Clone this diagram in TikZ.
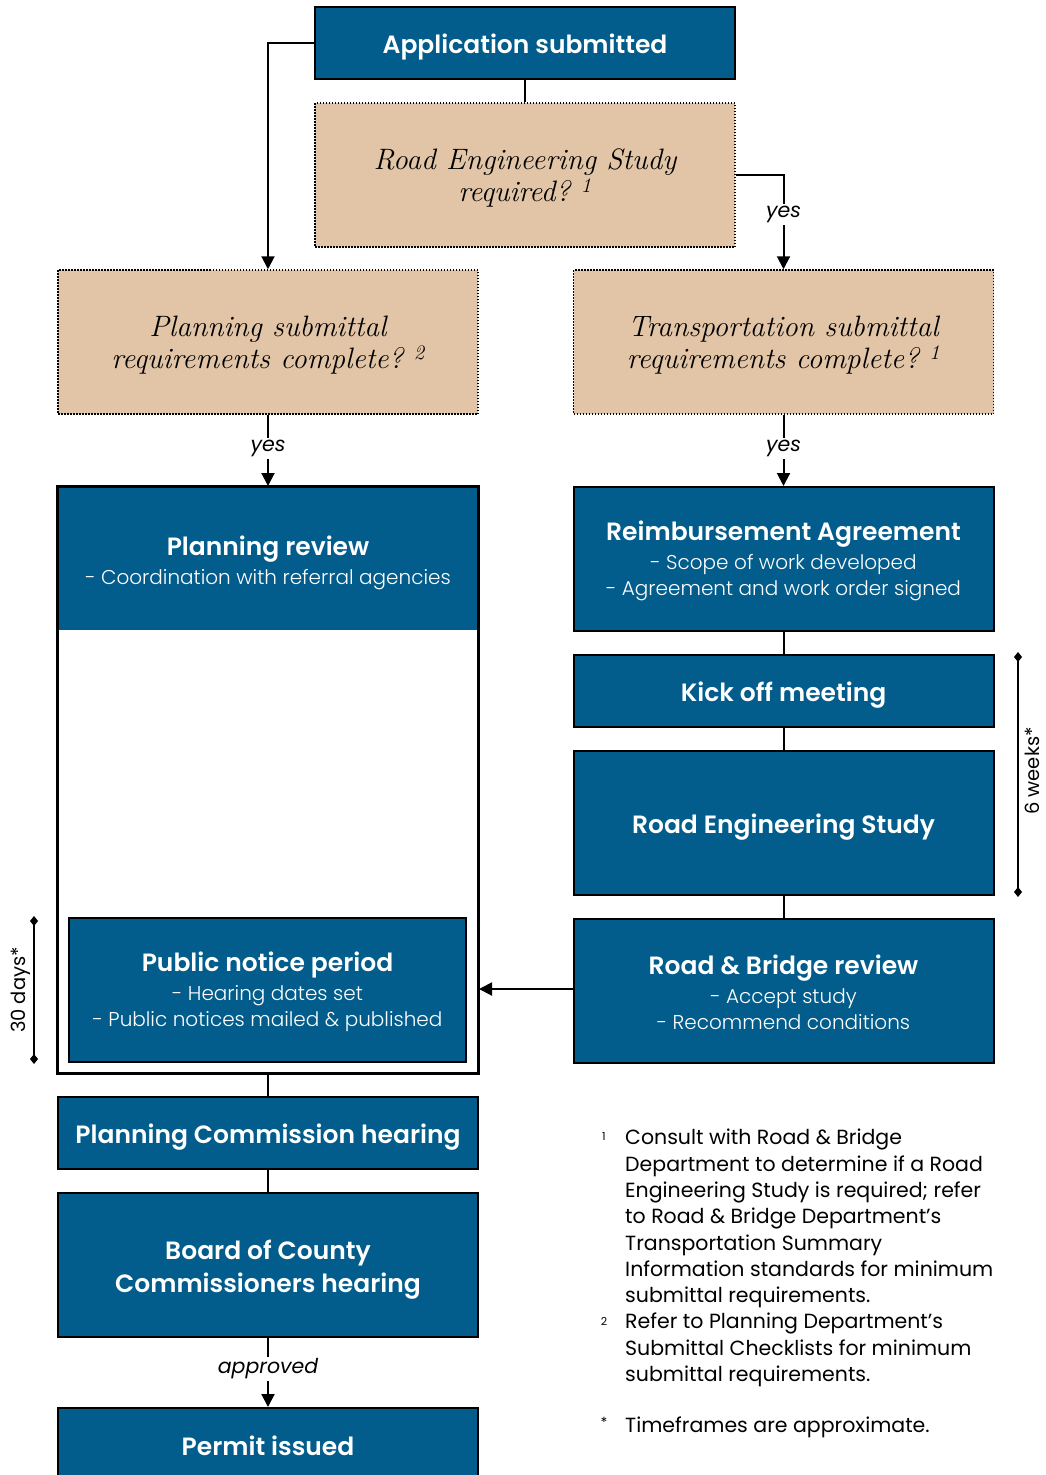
\documentclass[tikz,border=0pt]{standalone}
\usepackage{fontspec}
\setsansfont{Poppins}
\newfontfamily\popsemi{Poppins SemiBold}
\newfontfamily\poplight{Poppins Light}
\usetikzlibrary{arrows.meta}
\definecolor{boxblue}{RGB}{2,93,140}
\definecolor{tanbox}{RGB}{226,196,167}
\newcommand\boxtitle[1]{{\fontsize{25}{30}\selectfont\popsemi\rule{0pt}{23pt}#1}}
\newcommand\onetitle[1]{{\fontsize{25}{30}\selectfont\popsemi\rule{0pt}{28pt}#1}}
\newcommand\revtitle[1]{{\fontsize{25}{30}\selectfont\popsemi\rule{0pt}{27pt}#1}}
\newcommand\decstrut{\rule{0pt}{26pt}}
\begin{document}
\begin{tikzpicture}[x=1pt,y=-1pt,
  bluebox/.style={draw=black, line width=2pt, fill=boxblue, text=white, align=center,
    font=\poplight\fontsize{20}{26}\selectfont, inner sep=0pt, minimum width=420pt},
  bluefill/.style={fill=boxblue, text=white, align=center,
    font=\poplight\fontsize{20}{26}\selectfont, inner sep=0pt, minimum width=418pt},
  outerbox/.style={draw=black, line width=2pt, fill=white, inner sep=0pt, minimum width=420pt},
  decbox/.style={draw=black, line width=1.5pt, dash pattern=on 1.5pt off 1.5pt, fill=tanbox,
    align=center, font=\itshape\fontsize{29.5}{32}\selectfont, inner sep=0pt, minimum width=420pt},
  conn/.style={draw=black, line width=2pt},
  arr/.style={conn, -{Triangle[width=13pt,length=13pt]}},
  lab/.style={fill=white, font=\sffamily\itshape\fontsize{20.5}{24}\selectfont, inner sep=2pt},
  span/.style={draw=black, line width=1.5pt, {Diamond[width=8pt,length=10pt]}-{Diamond[width=8pt,length=10pt]}},
  spanlab/.style={font=\sffamily\fontsize{19.5}{24}\selectfont, rotate=90},
  fnote/.style={font=\sffamily\fontsize{20.5}{26.3}\selectfont, align=left, inner sep=0pt},
  fmark/.style={font=\sffamily\fontsize{11}{13}\selectfont, inner sep=0pt}
]
\useasboundingbox (0,0) rectangle (1045,1475);

% top
\node[bluebox, minimum height=72pt] (app) at (525,43) {\onetitle{Application submitted}};
\node[decbox, minimum height=144pt] (req) at (525,175) {\decstrut Road Engineering Study\\required?\hspace{0.35em}\textsuperscript{1}};

% decisions
\node[decbox, minimum height=144pt] (plansub) at (268,342) {\decstrut Planning submittal\\requirements complete?\hspace{0.35em}\textsuperscript{2}};
\node[decbox, minimum height=144pt] (transub) at (783.5,342) {\decstrut Transportation submittal\\requirements complete?\hspace{0.35em}\textsuperscript{1}};

% planning column
\node[outerbox, minimum height=586pt] (planout) at (268,780) {};
\node[bluefill, minimum height=142pt] (planrev) at (268,559) {\revtitle{Planning review}\\[3pt]- Coordination with referral agencies};
\draw[line width=2pt] (planout.north west) rectangle (planout.south east);
\node[bluebox, minimum width=397pt, minimum height=144pt] (pubnot) at (267.5,990)
  {\boxtitle{Public notice period}\\[3pt]- Hearing dates set\\- Public notices mailed \& published};

\node[bluebox, minimum height=72pt] (pch) at (268,1133) {\onetitle{Planning Commission hearing}};
\node[bluebox, minimum height=144pt] (bocc) at (268,1265)
  {\onetitle{Board of County}\\[6pt]{\fontsize{25}{30}\selectfont\popsemi Commissioners hearing}};
\node[bluebox, minimum height=72pt] (permit) at (268,1444) {\boxtitle{Permit issued}};

% transportation column
\node[bluebox, minimum height=144pt] (reimb) at (783.5,559)
  {\boxtitle{Reimbursement Agreement}\\[3pt]- Scope of work developed\\- Agreement and work order signed};
\node[bluebox, minimum height=72pt] (kick) at (783.5,691) {\onetitle{Kick off meeting}};
\node[bluebox, minimum height=144pt] (res) at (783.5,823) {\onetitle{Road Engineering Study}};
\node[bluebox, minimum height=144pt] (rb) at (783.5,991)
  {\boxtitle{Road \& Bridge review}\\[3pt]- Accept study\\- Recommend conditions};

% connectors
\coordinate (rbw) at ([yshift=2pt]rb.west);
\draw[conn] (app.south) -- (req.north);
\draw[arr] (app.west) -| (plansub.north);
\draw[arr] (req.east) -| (transub.north) node[pos=0.71, lab] {yes};
\draw[arr] (plansub.south) -- (planout.north) node[pos=0.47, lab] {yes};
\draw[arr] (transub.south) -- (reimb.north) node[pos=0.47, lab] {yes};
\draw[conn] (reimb.south) -- (kick.north);
\draw[conn] (kick.south) -- (res.north);
\draw[conn] (res.south) -- (rb.north);
\draw[arr] (rbw) -- (planout.east |- rbw);
\draw[conn] (planout.south) -- (pch.north);
\draw[conn] (pch.south) -- (bocc.north);
\draw[arr] (bocc.south) -- (permit.north) node[pos=0.45, lab] {approved};

% time spans
\coordinate (w1) at (1018,652);
\coordinate (w2) at (1018,897);
\draw[span] (w1) -- (w2);
\node[spanlab] (weeks) at (1032,771) {6 weeks*};
\coordinate (d1) at (34,916);
\coordinate (d2) at (34,1064);
\draw[span] (d1) -- (d2);
\node[spanlab] (days) at (21,990) {30 days*};

% footnotes
\node[fmark] (m1) at (604,1137) {1};
\node[fnote, anchor=north west] (f1) at (625,1129)
  {Consult with Road \& Bridge\\Department to determine if a Road\\Engineering Study is required; refer\\to Road \& Bridge Department's\\Transportation Summary\\Information standards for minimum\\submittal requirements.};
\node[fmark] (m2) at (604,1321) {2};
\node[fnote, anchor=north west] (f2) at (625,1313)
  {Refer to Planning Department's\\Submittal Checklists for minimum\\submittal requirements.};
\node[fmark, font=\sffamily\fontsize{14}{16}\selectfont] (m3) at (604,1422) {*};
\node[fnote, anchor=north west] (f3) at (625,1417) {Timeframes are approximate.};
\end{tikzpicture}
\end{document}
